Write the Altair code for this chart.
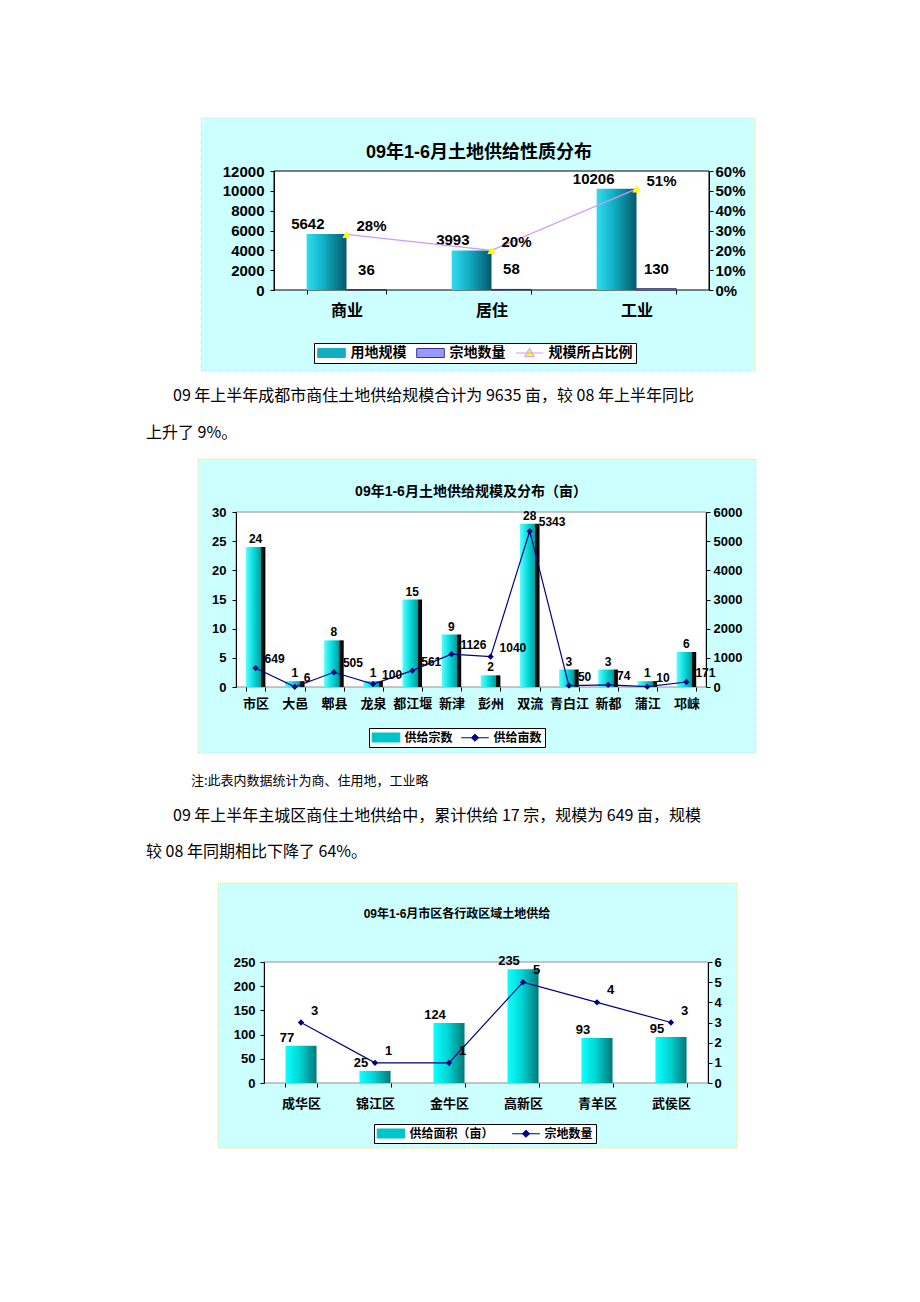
import altair as alt
import pandas as pd

# ---------------- data ----------------
c1_title = "09年1-6月土地供给性质分布"
c1_cats = ["商业", "居住", "工业"]
c1_area = [5642, 3993, 10206]
c1_count = [36, 58, 130]
c1_share = [0.28, 0.20, 0.51]
c1_series = ["用地规模", "宗地数量", "规模所占比例"]
c1_left_ticks = [0, 2000, 4000, 6000, 8000, 10000, 12000]
c1_right_ticks = [0, 0.1, 0.2, 0.3, 0.4, 0.5, 0.6]

c2_title = "09年1-6月土地供给规模及分布（亩）"
c2_cats = ["市区", "大邑", "郫县", "龙泉", "都江堰", "新津", "彭州", "双流", "青白江", "新都", "蒲江", "邛崃"]
c2_count = [24, 1, 8, 1, 15, 9, 2, 28, 3, 3, 1, 6]
c2_area = [649, 6, 505, 100, 561, 1126, 1040, 5343, 50, 74, 10, 171]
c2_series = ["供给宗数", "供给亩数"]
c2_left_ticks = [0, 5, 10, 15, 20, 25, 30]
c2_right_ticks = [0, 1000, 2000, 3000, 4000, 5000, 6000]

c3_title = "09年1-6月市区各行政区域土地供给"
c3_cats = ["成华区", "锦江区", "金牛区", "高新区", "青羊区", "武侯区"]
c3_area = [77, 25, 124, 235, 93, 95]
c3_count = [3, 1, 1, 5, 4, 3]
c3_series = ["供给面积（亩）", "宗地数量"]
c3_left_ticks = [0, 50, 100, 150, 200, 250]
c3_right_ticks = [0, 1, 2, 3, 4, 5, 6]

para1 = ["09 年上半年成都市商住土地供给规模合计为 9635 亩，较 08 年上半年同比", "上升了 9%。"]
note = "注:此表内数据统计为商、住用地，工业略"
para2 = ["09 年上半年主城区商住土地供给中，累计供给 17 宗，规模为 649 亩，规模", "较 08 年同期相比下降了 64%。"]

# ---------------- styling helpers ----------------
NUM = "Liberation Sans"
CJK = "Noto Sans CJK SC"
MIX = "Liberation Sans, Noto Sans CJK SC"
ONE = pd.DataFrame({"k": [0]})
BOX_FILL = "#CCFFFF"
BOX_STROKE = "#E4E49A"

SWATCH = "M-2.3,-0.75H2.3V0.75H-2.3Z"
LINE_TRI = "M-2.3,0H2.3M0,-0.8L0.8,0.6L-0.8,0.6Z"
LINE_DIA = "M-2.3,0H2.3M0,-0.6L0.6,0L0,0.6L-0.6,0Z"


def grad(stops):
    return {"gradient": "linear", "x1": 0, "x2": 1, "y1": 0, "y2": 0,
            "stops": [{"offset": o, "color": c} for o, c in stops]}


def rect(x0, x1, y0, y1, **kw):
    return alt.Chart(ONE).mark_rect(**kw).encode(
        x=alt.value(x0), x2=alt.value(x1), y=alt.value(y0), y2=alt.value(y1))


def label(text, x, y, **kw):
    return alt.Chart(ONE).mark_text(text=text, **kw).encode(x=alt.value(x), y=alt.value(y))


def band_axis(size, pad):
    return alt.Axis(title=None, labelFont=CJK, labelFontSize=size, labelFontWeight="bold",
                    labelColor="black", labelAngle=0, labelPadding=pad, tickBand="extent",
                    tickSize=4, tickColor="black", domain=False, grid=False, zindex=1)


def val_axis(orient, values, size, pad, fmt, offset=0):
    return alt.Axis(orient=orient, values=values, format=fmt, title=None, labelFont=NUM,
                    labelFontSize=size, labelFontWeight="bold", labelColor="black",
                    labelPadding=pad, tickSize=4, tickColor="black", domainColor="black",
                    grid=False, zindex=1, offset=offset)


def legend_layer(names, fills, strokes, shapes, cx, cy, lx, ly, fsize, cpad, loff):
    leg = alt.Legend(title=None, orient="none", legendX=lx, legendY=ly, direction="horizontal",
                     columns=len(names), symbolSize=144, symbolStrokeWidth=1, symbolOffset=7.5,
                     labelFont=CJK, labelFontSize=fsize, labelFontWeight="bold", labelColor="black",
                     labelOffset=loff, columnPadding=cpad, padding=3, fillColor="white",
                     strokeColor="black", zindex=1)
    df = pd.DataFrame({"series": names})
    return alt.Chart(df).mark_point(filled=True, opacity=1, size=20).encode(
        x=alt.value(cx), y=alt.value(cy),
        fill=alt.Fill("series:N", scale=alt.Scale(domain=names, range=fills), legend=leg),
        stroke=alt.Stroke("series:N", scale=alt.Scale(domain=names, range=strokes), legend=leg),
        shape=alt.Shape("series:N", scale=alt.Scale(domain=names, range=shapes), legend=leg),
    )


# ---------------- chart 1 ----------------
L1, W1, H1 = 265, 435, 119
xe1 = alt.X("cat:N", scale=alt.Scale(domain=c1_cats, range=[L1, L1 + W1], paddingInner=0.45,
                                     paddingOuter=0.225), axis=band_axis(16, 8))
xo1 = alt.XOffset("series:N", scale=alt.Scale(domain=c1_series[:2], paddingInner=0, paddingOuter=0))
yL1 = alt.Y("value:Q", scale=alt.Scale(domain=[0, 12000], nice=False),
            axis=val_axis("left", c1_left_ticks, 15, 6, "d", -L1))
yR1 = alt.Y("share:Q", scale=alt.Scale(domain=[0, 0.6], nice=False),
            axis=val_axis("right", c1_right_ticks, 15, 2, ".0%"))

df1a = pd.DataFrame({"cat": c1_cats, "series": c1_series[0], "value": c1_area})
df1b = pd.DataFrame({"cat": c1_cats, "series": c1_series[1], "value": c1_count})
df1c = pd.DataFrame({"cat": c1_cats, "share": c1_share})

G1 = grad([(0, "#34DCEE"), (0.4, "#12B2C8"), (1, "#05586A")])
txt1 = dict(font=NUM, fontSize=15, fontWeight="bold", color="black")

left1 = alt.layer(
    legend_layer(c1_series, ["#14AEC2", "#9999FF", "#FFFF00"], ["#14AEC2", "#333399", "#CC99FF"],
                 [SWATCH, SWATCH, LINE_TRI], L1 + W1 / 2, H1 / 2, L1 + 40, 172, 14, 7, 12),
    rect(L1 - 73, L1 + 481, -53, 200, fill=BOX_FILL, stroke=BOX_STROKE, strokeDash=[1, 1], opacity=1),
    rect(L1, L1 + W1, 0, H1, fill="white", stroke="black", strokeWidth=1, opacity=1),
    label(c1_title, L1 + 205, -18, font=MIX, fontSize=18, fontWeight="bold", align="center",
          baseline="middle", color="black"),
    alt.Chart(df1a).mark_bar(fill=G1, opacity=1).encode(x=xe1, xOffset=xo1, y=yL1),
    alt.Chart(df1b).mark_bar(fill="#9999FF", stroke="#333366", strokeWidth=1, opacity=1).encode(
        x=xe1, xOffset=xo1, y=yL1),
    alt.Chart(df1a).mark_text(align="right", dx=-2, dy=-10, **txt1).encode(
        x=xe1, xOffset=xo1, y=yL1, text=alt.Text("value:Q", format="d")),
    alt.Chart(df1b).mark_text(align="center", dy=-20, **txt1).encode(
        x=xe1, xOffset=xo1, y=yL1, text=alt.Text("value:Q", format="d")),
)
right1 = alt.layer(
    alt.Chart(df1c).mark_line(color="#CC99FF", strokeWidth=1.2).encode(x=xe1, y=yR1),
    alt.Chart(df1c).mark_point(shape="triangle-up", filled=True, color="#FFFF00", size=70,
                               opacity=1).encode(x=xe1, y=yR1),
    alt.Chart(df1c).mark_text(align="left", dx=10, dy=-8, **txt1).encode(
        x=xe1, y=yR1, text=alt.Text("share:Q", format=".0%")),
)
panel1 = alt.layer(left1, right1).resolve_scale(y="independent").properties(width=L1 + W1, height=H1)

# ---------------- chart 2 ----------------
L2, W2, H2 = 227, 470, 175
xe2 = alt.X("cat:N", scale=alt.Scale(domain=c2_cats, range=[L2, L2 + W2], paddingInner=0.5,
                                     paddingOuter=0.25), axis=band_axis(13, 6))
yL2 = alt.Y("count:Q", scale=alt.Scale(domain=[0, 30], nice=False),
            axis=val_axis("left", c2_left_ticks, 13, 6, "d", -L2))
yR2 = alt.Y("area:Q", scale=alt.Scale(domain=[0, 6000], nice=False),
            axis=val_axis("right", c2_right_ticks, 13, 3, "d"))
df2 = pd.DataFrame({"cat": c2_cats, "count": c2_count, "area": c2_area})
G2 = grad([(0, "#5CFFFF"), (0.45, "#00D4D4"), (0.78, "#009A9A"), (0.79, "#1A1A1A"), (1, "#000000")])
txt2 = dict(font=NUM, fontSize=12, fontWeight="bold", color="black")

left2 = alt.layer(
    legend_layer(c2_series, ["#00C4C8", "#000080"], ["#00C4C8", "#000080"],
                 [SWATCH, LINE_DIA], L2 + W2 / 2, H2 / 2, L2 + 133, 216, 12, 6, 12),
    rect(L2 - 38, L2 + 520, -53, 241, fill=BOX_FILL, stroke=BOX_STROKE, strokeDash=[1, 1], opacity=1),
    rect(L2, L2 + W2, 0, H2, fill="white", stroke="#909090", strokeWidth=1, opacity=1),
    label(c2_title, L2 + 235, -20, font=MIX, fontSize=14, fontWeight="bold", align="center",
          baseline="middle", color="black"),
    alt.Chart(df2).mark_bar(fill=G2, opacity=1).encode(x=xe2, y=yL2),
    alt.Chart(df2).mark_text(align="center", dy=-8, **txt2).encode(
        x=xe2, y=yL2, text=alt.Text("count:Q", format="d")),
)
right2 = alt.layer(
    alt.Chart(df2).mark_line(color="#000080", strokeWidth=1.2).encode(x=xe2, y=yR2),
    alt.Chart(df2).mark_point(shape="diamond", filled=True, color="#000080", size=40,
                              opacity=1).encode(x=xe2, y=yR2),
    alt.Chart(df2).mark_text(align="left", dx=9, dy=-9, **txt2).encode(
        x=xe2, y=yR2, text=alt.Text("area:Q", format="d")),
)
panel2 = alt.layer(left2, right2).resolve_scale(y="independent").properties(width=L2 + W2, height=H2)

# ---------------- chart 3 ----------------
L3, W3, H3 = 255, 444, 121
xe3 = alt.X("cat:N", scale=alt.Scale(domain=c3_cats, range=[L3, L3 + W3], paddingInner=0.58,
                                     paddingOuter=0.29), axis=band_axis(13, 10))
yL3 = alt.Y("area:Q", scale=alt.Scale(domain=[0, 250], nice=False),
            axis=val_axis("left", c3_left_ticks, 13, 5, "d", -L3))
yR3 = alt.Y("count:Q", scale=alt.Scale(domain=[0, 6], nice=False),
            axis=val_axis("right", c3_right_ticks, 13, 2, "d"))
df3 = pd.DataFrame({"cat": c3_cats, "area": c3_area, "count": c3_count})
G3 = grad([(0, "#10FFFF"), (0.45, "#00D6D6"), (1, "#007878")])
txt3 = dict(font=NUM, fontSize=13, fontWeight="bold", color="black")

left3 = alt.layer(
    legend_layer(c3_series, ["#00C4C8", "#000080"], ["#00C4C8", "#000080"],
                 [SWATCH, LINE_DIA], L3 + W3 / 2, H3 / 2, L3 + 110, 162, 12, 16, 12),
    rect(L3 - 46, L3 + 473, -79, 186, fill=BOX_FILL, stroke=BOX_STROKE, strokeDash=[1, 1], opacity=1),
    rect(L3, L3 + W3, 0, H3, fill="white", stroke="#909090", strokeWidth=1, opacity=1),
    label(c3_title, L3 + 193, -48, font=MIX, fontSize=12, fontWeight="bold", align="center",
          baseline="middle", color="black"),
    alt.Chart(df3).mark_bar(fill=G3, opacity=1).encode(x=xe3, y=yL3),
    alt.Chart(df3).mark_text(align="center", dx=-14, dy=-8, **txt3).encode(
        x=xe3, y=yL3, text=alt.Text("area:Q", format="d")),
)
right3 = alt.layer(
    alt.Chart(df3).mark_line(color="#000080", strokeWidth=1.2).encode(x=xe3, y=yR3),
    alt.Chart(df3).mark_point(shape="diamond", filled=True, color="#000080", size=40,
                              opacity=1).encode(x=xe3, y=yR3),
    alt.Chart(df3).mark_text(align="left", dx=10, dy=-12, **txt3).encode(
        x=xe3, y=yR3, text=alt.Text("count:Q", format="d")),
)
panel3 = alt.layer(left3, right3).resolve_scale(y="independent").properties(width=L3 + W3, height=H3)

# ---------------- page layout (flat vertical stack, flush bounds) ----------------
PAGE_W = 900
INDEP = dict(fill="independent", stroke="independent", shape="independent")


def spacer(w, h):
    return alt.Chart(ONE).mark_text(text=" ", baseline="top", fontSize=1).encode(
        x=alt.value(1), y=alt.value(1)).properties(width=w, height=h)


def text_row(h, items):
    layers = [label(t, x, y, font=CJK, fontSize=fs, align="left", baseline="middle", color="black")
              for t, x, y, fs in items]
    return alt.layer(*layers).properties(width=PAGE_W, height=h)


chart = alt.vconcat(
    spacer(PAGE_W, 162),
    panel1,
    text_row(222, [(para1[0], 164, 106, 16), (para1[1], 137, 143, 16)]),
    panel2,
    text_row(275, [(note, 182, 94, 13), (para2[0], 164, 129, 16), (para2[1], 137, 165, 16)]),
    panel3,
    spacer(PAGE_W, 190),
    spacing=0,
    bounds="flush",
).resolve_scale(**INDEP).properties(padding=0, background="white").configure_view(stroke="transparent")

chart.save("out.html", embed_options={"renderer": "svg", "actions": False})
